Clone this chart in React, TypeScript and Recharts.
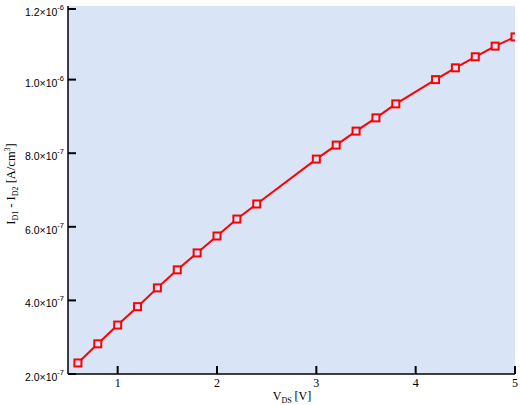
import { LineChart, Line, XAxis, YAxis, CartesianGrid } from "recharts"

const vds = [0.6, 0.8, 1.0, 1.2, 1.4, 1.6, 1.8, 2.0, 2.2, 2.4, 3.0, 3.2, 3.4, 3.6, 3.8, 4.2, 4.4, 4.6, 4.8, 5.0]
const diff = [
  2.3e-7, 2.82e-7, 3.33e-7, 3.83e-7, 4.34e-7, 4.83e-7, 5.29e-7, 5.75e-7, 6.21e-7, 6.62e-7,
  7.84e-7, 8.22e-7, 8.6e-7, 8.96e-7, 9.34e-7, 1.0e-6, 1.032e-6, 1.062e-6, 1.091e-6, 1.116e-6,
]
const xTicks = [1, 2, 3, 4, 5]
const yTicks = [2e-7, 4e-7, 6e-7, 8e-7, 1e-6, 1.2e-6]

const data = vds.map((v, i) => ({ vds: v, diff: diff[i] }))

const BG = "#dae4f7"
const RED = "#ff0000"

function sciParts(v: number) {
  const exp = Math.floor(Math.log10(v) + 1e-9)
  const mant = v / Math.pow(10, exp)
  return { mant: mant.toFixed(1), exp }
}

function YTickLeft(props: any) {
  const { x, y, payload } = props
  const { mant, exp } = sciParts(payload.value)
  return (
    <g>
      <line x1={x} y1={y} x2={x + 8} y2={y} stroke="#000" strokeWidth={2} />
      <text x={x - 4} y={y + 7} textAnchor="end" fontFamily="Liberation Sans, sans-serif" fontSize={10.5} fill="#000">
        {mant}×10
        <tspan dy={-6} fontSize={7.5}>{exp}</tspan>
      </text>
    </g>
  )
}

function YTickRight(props: any) {
  const { x, y } = props
  return <line x1={x} y1={y} x2={x - 8} y2={y} stroke="#000" strokeWidth={2} />
}

function XTickBottom(props: any) {
  const { x, y, payload } = props
  return (
    <g>
      <line x1={x} y1={y} x2={x} y2={y - 8} stroke="#000" strokeWidth={2} />
      <text x={x} y={y + 13} textAnchor="middle" fontFamily="Liberation Serif, serif" fontSize={12} fill="#000">
        {payload.value}
      </text>
    </g>
  )
}

function XTickTop(props: any) {
  const { x, y } = props
  return <line x1={x} y1={y} x2={x} y2={y + 8} stroke="#000" strokeWidth={2} />
}

function SquareDot(props: any) {
  const { cx, cy } = props
  if (cx == null || cy == null) return null
  return <rect x={cx - 3.5} y={cy - 3.5} width={7} height={7} fill={BG} stroke={RED} strokeWidth={2} />
}

export default function App() {
  return (
    <div style={{ position: "absolute", left: 0, top: 0, width: 520, height: 405, background: "#fff" }}>
      <LineChart width={520} height={405} data={data} margin={{ top: 6, right: 5, bottom: 0, left: 0 }}>
        <CartesianGrid horizontal={false} vertical={false} fill={BG} />
        <XAxis
          dataKey="vds"
          type="number"
          domain={[0.5, 5]}
          ticks={xTicks}
          allowDataOverflow
          height={31}
          tickSize={0}
          tickMargin={0}
          tickLine={false}
          axisLine={{ stroke: "#000", strokeWidth: 1.5 }}
          tick={<XTickBottom />}
        />
        <XAxis
          xAxisId="top"
          orientation="top"
          type="number"
          domain={[0.5, 5]}
          ticks={xTicks}
          allowDataOverflow
          height={0}
          tickSize={0}
          tickMargin={0}
          tickLine={false}
          axisLine={{ stroke: "#000", strokeWidth: 1.5 }}
          tick={<XTickTop />}
        />
        <YAxis
          type="number"
          domain={[2e-7, 1.2e-6]}
          ticks={yTicks}
          allowDataOverflow
          width={68}
          tickSize={0}
          tickMargin={0}
          tickLine={false}
          axisLine={{ stroke: "#000", strokeWidth: 1.5 }}
          tick={<YTickLeft />}
        />
        <YAxis
          yAxisId="right"
          orientation="right"
          type="number"
          domain={[2e-7, 1.2e-6]}
          ticks={yTicks}
          allowDataOverflow
          width={0}
          tickSize={0}
          tickMargin={0}
          tickLine={false}
          axisLine={{ stroke: "#000", strokeWidth: 1.5 }}
          tick={<YTickRight />}
        />
        <Line
          dataKey="diff"
          stroke={RED}
          strokeWidth={2}
          dot={<SquareDot />}
          isAnimationActive={false}
        />
        <text x={292} y={400} textAnchor="middle" fontFamily="Liberation Serif, serif" fontSize={12} fill="#000">
          V<tspan dy={3} fontSize={8}>DS</tspan>
          <tspan dy={-3}> [V]</tspan>
        </text>
        <text
          transform="translate(15, 184) rotate(-90)"
          textAnchor="middle"
          fontFamily="Liberation Serif, serif"
          fontSize={12.5}
          fill="#000"
        >
          I<tspan dy={3} fontSize={8}>D1</tspan>
          <tspan dy={-3}> - I</tspan>
          <tspan dy={3} fontSize={8}>D2</tspan>
          <tspan dy={-3}> [A/cm</tspan>
          <tspan dy={-5} fontSize={8}>3</tspan>
          <tspan dy={5}>]</tspan>
        </text>
      </LineChart>
    </div>
  )
}
